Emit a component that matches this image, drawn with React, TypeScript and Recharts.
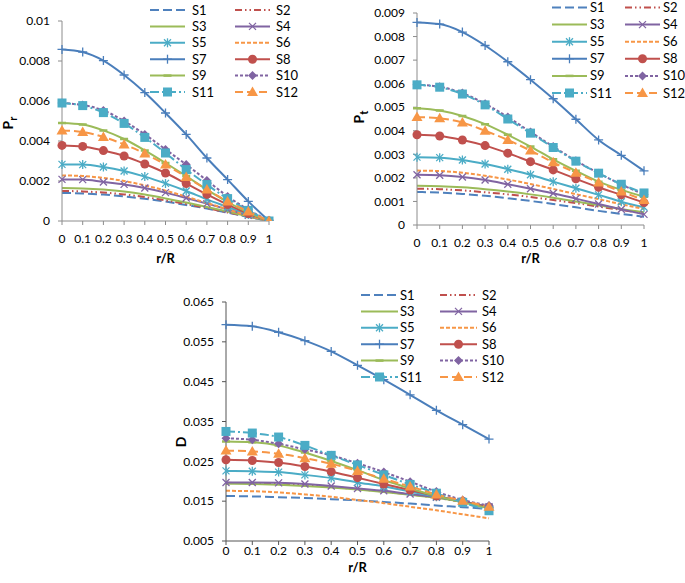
import { LineChart, Line, XAxis, YAxis, Legend } from 'recharts';

// r/R positions along the radius
const rR = [0, 0.1, 0.2, 0.3, 0.4, 0.5, 0.6, 0.7, 0.8, 0.9, 1];
const seriesNames = ['S1', 'S2', 'S3', 'S4', 'S5', 'S6', 'S7', 'S8', 'S9', 'S10', 'S11', 'S12'];

// Pr, one row per series (S1..S12)
const prValues = [
  [0.0014, 0.00138, 0.00132, 0.00123, 0.00111, 0.00097, 0.0008, 0.00062, 0.00042, 0.0002, 0],
  [0.0015, 0.00148, 0.00142, 0.00133, 0.0012, 0.00103, 0.00085, 0.00065, 0.00043, 0.00022, 0],
  [0.00165, 0.00163, 0.00157, 0.00147, 0.00132, 0.00113, 0.00092, 0.0007, 0.00047, 0.00023, 0],
  [0.00208, 0.00207, 0.00195, 0.00183, 0.00165, 0.00142, 0.00115, 0.00087, 0.00058, 0.00028, 0],
  [0.00283, 0.00282, 0.0027, 0.0025, 0.00222, 0.00188, 0.0015, 0.00108, 0.0007, 0.00032, 0],
  [0.00228, 0.00225, 0.00215, 0.002, 0.00178, 0.00152, 0.00122, 0.0009, 0.00058, 0.00027, 0],
  [0.00858, 0.00845, 0.00802, 0.0073, 0.00642, 0.0054, 0.00433, 0.00315, 0.00207, 0.00098, 0],
  [0.00378, 0.00373, 0.00352, 0.00325, 0.00285, 0.0024, 0.00187, 0.00133, 0.00082, 0.00037, 0],
  [0.0049, 0.00482, 0.00453, 0.0041, 0.00353, 0.0029, 0.00225, 0.00157, 0.00095, 0.00042, 0],
  [0.0059, 0.0058, 0.00553, 0.005, 0.00433, 0.00358, 0.00282, 0.00203, 0.00123, 0.00057, 0],
  [0.0059, 0.00577, 0.00542, 0.00488, 0.00418, 0.0034, 0.00257, 0.00182, 0.00112, 0.00053, 0],
  [0.00453, 0.00445, 0.0042, 0.00383, 0.00337, 0.00282, 0.0022, 0.00157, 0.00098, 0.00048, 0],
];

// Pt
const ptValues = [
  [0.0014, 0.00138, 0.00132, 0.00124, 0.00114, 0.00102, 0.00089, 0.00075, 0.0006, 0.00047, 0.00035],
  [0.00154, 0.00152, 0.00147, 0.00139, 0.0013, 0.00119, 0.00106, 0.00093, 0.00078, 0.00064, 0.0005],
  [0.00167, 0.00165, 0.0016, 0.00152, 0.00142, 0.0013, 0.00116, 0.001, 0.00084, 0.00068, 0.00054],
  [0.00213, 0.00211, 0.00204, 0.00191, 0.00173, 0.00154, 0.00135, 0.00112, 0.00089, 0.00067, 0.00045],
  [0.00288, 0.00286, 0.00276, 0.00259, 0.00237, 0.00213, 0.00184, 0.00156, 0.00128, 0.00099, 0.00075],
  [0.00231, 0.00229, 0.00222, 0.00209, 0.00193, 0.00174, 0.00153, 0.00131, 0.0011, 0.00088, 0.00068],
  [0.0086, 0.00853, 0.00819, 0.00762, 0.00693, 0.00617, 0.00536, 0.00449, 0.00361, 0.00296, 0.0023],
  [0.00383, 0.00378, 0.00361, 0.00337, 0.00305, 0.00269, 0.00234, 0.00196, 0.0016, 0.00128, 0.00095],
  [0.00496, 0.00486, 0.00463, 0.00428, 0.00383, 0.00333, 0.00279, 0.0023, 0.00184, 0.00149, 0.0012],
  [0.00595, 0.00587, 0.0056, 0.00515, 0.00458, 0.00395, 0.00333, 0.00273, 0.0022, 0.00172, 0.0013],
  [0.00595, 0.00585, 0.00556, 0.0051, 0.0045, 0.0039, 0.00329, 0.00271, 0.0022, 0.00173, 0.00136],
  [0.00458, 0.00453, 0.00435, 0.004, 0.00361, 0.00316, 0.00266, 0.00222, 0.0018, 0.00142, 0.00106],
];

// D
const dValues = [
  [0.0163, 0.0162, 0.016, 0.0158, 0.0155, 0.0152, 0.0148, 0.0144, 0.0139, 0.0135, 0.013],
  [0.0196, 0.0195, 0.0193, 0.019, 0.0186, 0.018, 0.0174, 0.0167, 0.0158, 0.0148, 0.0137],
  [0.0194, 0.0193, 0.0191, 0.0188, 0.0184, 0.0179, 0.0173, 0.0166, 0.0158, 0.0148, 0.0133],
  [0.0197, 0.0197, 0.0196, 0.0193, 0.0188, 0.0182, 0.0176, 0.0168, 0.016, 0.0149, 0.0136],
  [0.0226, 0.0225, 0.0223, 0.0216, 0.0208, 0.0197, 0.0187, 0.0174, 0.0161, 0.0149, 0.0134],
  [0.0176, 0.0175, 0.0172, 0.0167, 0.0161, 0.0153, 0.0145, 0.0136, 0.0127, 0.0117, 0.0107],
  [0.0593, 0.0589, 0.0574, 0.0553, 0.0526, 0.0491, 0.0455, 0.0417, 0.0378, 0.0342, 0.0306],
  [0.0254, 0.0252, 0.0247, 0.0237, 0.0224, 0.0209, 0.0193, 0.0178, 0.0163, 0.0149, 0.0135],
  [0.03, 0.0298, 0.029, 0.0272, 0.0251, 0.0228, 0.0203, 0.0182, 0.0163, 0.0147, 0.0132],
  [0.0308, 0.0304, 0.0294, 0.028, 0.0265, 0.0245, 0.0223, 0.0199, 0.0174, 0.0153, 0.0139],
  [0.0325, 0.0321, 0.0311, 0.029, 0.0265, 0.0241, 0.0216, 0.0192, 0.017, 0.0147, 0.0126],
  [0.0277, 0.0275, 0.0269, 0.0258, 0.0244, 0.0226, 0.0206, 0.0187, 0.0167, 0.0151, 0.0136],
];

const prTicks = [0, 0.002, 0.004, 0.006, 0.008, 0.01];
const ptTicks = [0, 0.001, 0.002, 0.003, 0.004, 0.005, 0.006, 0.007, 0.008, 0.009];
const dTicks = [0.005, 0.015, 0.025, 0.035, 0.045, 0.055, 0.065];

// series styling (Excel 2010 palette)
const colors = ['#4F81BD', '#C0504D', '#9BBB59', '#8064A2', '#4BACC6', '#F79646',
  '#4A7EBB', '#C0504D', '#9BBB59', '#8064A2', '#4BACC6', '#F79646'];
const dashes = ['9 4', '7 3 1.5 3 1.5 3', undefined, undefined, undefined, '4 2',
  undefined, undefined, undefined, '3 2', '9 3 2 3', '8 4'];
const marks = [null, null, null, 'x', 'star', null, 'plus', 'circle', 'dash', 'diamond', 'square', 'triangle'];

const FONT = 'Lato, "Open Sans", sans-serif';

const toRows = (values: number[][]) =>
  rR.map((x, i) => {
    const row: any = { x };
    seriesNames.forEach((n, s) => (row[n] = values[s][i]));
    return row;
  });

function Mark({ kind, cx, cy, color }: any) {
  if (kind === 'x' || kind === 'star') {
    return (
      <g stroke={color} strokeWidth={1.3}>
        <line x1={cx - 3.5} y1={cy - 3.5} x2={cx + 3.5} y2={cy + 3.5} />
        <line x1={cx - 3.5} y1={cy + 3.5} x2={cx + 3.5} y2={cy - 3.5} />
        {kind === 'star' && <line x1={cx} y1={cy - 4.5} x2={cx} y2={cy + 4.5} />}
      </g>
    );
  }
  if (kind === 'plus') {
    return (
      <g stroke={color} strokeWidth={1.3}>
        <line x1={cx - 4.5} y1={cy} x2={cx + 4.5} y2={cy} />
        <line x1={cx} y1={cy - 4.5} x2={cx} y2={cy + 4.5} />
      </g>
    );
  }
  if (kind === 'circle') return <circle cx={cx} cy={cy} r={4.5} fill={color} />;
  if (kind === 'dash') return <line x1={cx - 4} y1={cy} x2={cx + 4} y2={cy} stroke={color} strokeWidth={2.5} />;
  if (kind === 'diamond') {
    return <polygon points={`${cx},${cy - 4.5} ${cx + 4.5},${cy} ${cx},${cy + 4.5} ${cx - 4.5},${cy}`} fill={color} />;
  }
  if (kind === 'square') return <rect x={cx - 4.5} y={cy - 4.5} width={9} height={9} fill={color} />;
  if (kind === 'triangle') {
    return <polygon points={`${cx},${cy - 5.5} ${cx + 5.5},${cy + 4} ${cx - 5.5},${cy + 4}`} fill={color} />;
  }
  return null;
}

function LegendBox({ lg }: any) {
  return (
    <svg width={lg.w} height={lg.h} style={{ display: 'block', overflow: 'visible' }}>
      {seriesNames.map((name, i) => {
        const col = i % 2;
        const y = lg.rowY + Math.floor(i / 2) * lg.rowStep;
        const x0 = lg.colX[col];
        const x1 = x0 + lg.lineLen;
        return (
          <g key={name}>
            <line x1={x0} y1={y} x2={x1} y2={y} stroke={colors[i]} strokeWidth={2} strokeDasharray={dashes[i]} />
            {marks[i] && <Mark kind={marks[i]} cx={(x0 + x1) / 2} cy={y} color={colors[i]} />}
            <text x={lg.textX[col]} y={y} dy="0.35em" fontSize={13} fontFamily={FONT} fill="#000">
              {name}
            </text>
          </g>
        );
      })}
    </svg>
  );
}

const panels = [
  {
    key: 'pr', left: 0, top: 0, width: 310, height: 275,
    margin: { top: 21, right: 41, left: 10, bottom: 0 }, yWidth: 52, xHeight: 54,
    domain: [0, 0.01], ticks: prTicks, values: prValues, axisColor: '#8c8c8c', xTickMargin: 9,
    yTitle: { x: 13, y: 123, main: 'P', sub: 'r' }, xTitle: { x: 165.5, y: 258 },
    legend: { left: 148, top: 0, w: 160, h: 102, colX: [2, 87], lineLen: 35, textX: [44, 128], rowY: 10, rowStep: 16.4 },
  },
  {
    key: 'pt', left: 340, top: 0, width: 345, height: 275,
    margin: { top: 13, right: 41, left: 10, bottom: 0 }, yWidth: 67, xHeight: 50,
    domain: [0, 0.009], ticks: ptTicks, values: ptValues, axisColor: '#8c8c8c', xTickMargin: 9,
    yTitle: { x: 24, y: 117, main: 'P', sub: 't' }, xTitle: { x: 190.5, y: 258 },
    legend: { left: 210, top: 0, w: 135, h: 102, colX: [2, 75], lineLen: 35, textX: [40, 113], rowY: 7.5, rowStep: 17.1 },
  },
  {
    key: 'd', left: 150, top: 280, width: 360, height: 303,
    margin: { top: 22, right: 21, left: 10, bottom: 2 }, yWidth: 66, xHeight: 40,
    domain: [0.005, 0.065], ticks: dTicks, values: dValues, axisColor: '#555555', xTickMargin: 1,
    yTitle: { x: 36, y: 162, main: 'D', sub: '' }, xTitle: { x: 207.5, y: 287 },
    legend: { left: 209, top: 0, w: 150, h: 110, colX: [2, 81], lineLen: 37, textX: [41, 123], rowY: 15, rowStep: 16.4 },
  },
];

function Panel({ p }: any) {
  const rows = toRows(p.values);
  const tickStyle = { fill: '#000', fontSize: 12, fontFamily: FONT };
  const yTitle = () => {
    const { x, y, main, sub } = p.yTitle;
    return (
      <text x={x} y={y} transform={`rotate(-90 ${x} ${y})`} textAnchor="middle" fontSize={14}
        fontWeight="bold" fontFamily={FONT} fill="#000">
        <tspan>{main}</tspan>
        {sub && <tspan dy={4} fontSize={11}>{sub}</tspan>}
      </text>
    );
  };
  const xTitle = () => (
    <text x={p.xTitle.x} y={p.xTitle.y} dy="0.35em" textAnchor="middle" fontSize={13}
      fontWeight="bold" fontFamily={FONT} fill="#000">
      r/R
    </text>
  );
  return (
    <div style={{ position: 'absolute', left: p.left, top: p.top, width: p.width, height: p.height }}>
      <LineChart width={p.width} height={p.height} data={rows} margin={p.margin}>
        <XAxis
          dataKey="x" type="number" domain={[0, 1]} ticks={rR} interval={0}
          height={p.xHeight} tickSize={4} tickMargin={p.xTickMargin}
          stroke={p.axisColor} tick={tickStyle} tickFormatter={(v) => String(v)}
          label={xTitle}
        />
        <YAxis
          type="number" domain={p.domain} ticks={p.ticks} interval={0} width={p.yWidth}
          tickSize={4} tickMargin={8} stroke={p.axisColor} tick={tickStyle}
          tickFormatter={(v) => String(v)} allowDataOverflow label={yTitle}
        />
        {seriesNames.map((name, i) => (
          <Line
            key={name}
            dataKey={name}
            type="monotone"
            stroke={colors[i]}
            strokeWidth={2}
            strokeDasharray={dashes[i]}
            dot={marks[i] ? (d: any) => <Mark key={`${name}-${d.index}`} kind={marks[i]} cx={d.cx} cy={d.cy} color={colors[i]} /> : false}
            activeDot={false}
            isAnimationActive={false}
          />
        ))}
        <Legend
          layout="vertical" align="center" verticalAlign="middle"
          wrapperStyle={{ left: p.legend.left, top: p.legend.top, width: p.legend.w, height: p.legend.h }}
          content={() => <LegendBox lg={p.legend} />}
        />
      </LineChart>
    </div>
  );
}

export default function App() {
  return (
    <div style={{ position: 'absolute', left: 0, top: 0, width: 685, height: 583, background: '#fff' }}>
      {panels.map((p) => (
        <Panel key={p.key} p={p} />
      ))}
    </div>
  );
}
